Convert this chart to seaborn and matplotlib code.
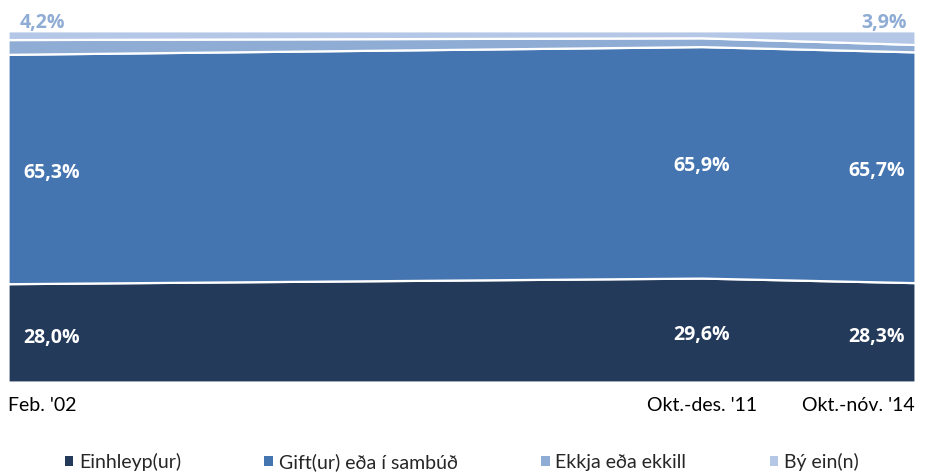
import matplotlib
matplotlib.use("Agg")
import matplotlib.pyplot as plt
import seaborn as sns
import numpy as np
from matplotlib.patches import Patch

# ---- data ----
periods = ["Feb. '02", "Okt.-des. '11", "Okt.-nóv. '14"]
time_pos = [2002.1, 2011.85, 2014.85]
series_names = ["Einhleyp(ur)", "Gift(ur) eða í sambúð", "Ekkja eða ekkill", "Bý ein(n)"]
einhleyp = [28.0, 29.6, 28.3]
gift = [65.3, 65.9, 65.7]
ekkja = [4.2, 2.5, 2.1]
byr = [2.5, 2.0, 3.9]
colors = ["#233a5b", "#4575b0", "#8eacd4", "#b4c7e7"]

sns.set_theme(style="white")
plt.rcParams["font.family"] = ["Lato", "DejaVu Sans"]
BOLD = ["Open Sans", "DejaVu Sans"]

fig = plt.figure(figsize=(9.29, 4.74), dpi=100)
ax = fig.add_axes([0.0086, 0.194, 0.9764, 0.741])

vals = np.array([einhleyp, gift, ekkja, byr], dtype=float)
vals = vals / vals.sum(axis=0) * 100
ax.stackplot(time_pos, vals, colors=colors, edgecolor="white", linewidth=1.6)

ax.set_xlim(time_pos[0], time_pos[-1])
ax.set_ylim(0, 100)
ax.set_yticks([])
for s in ax.spines.values():
    s.set_visible(False)

# x tick labels
ax.set_xticks(time_pos)
ax.set_xticklabels(periods, fontsize=14, color="#000000")
aligns = ["left", "center", "right"]
for lbl, ha in zip(ax.get_xticklabels(), aligns):
    lbl.set_ha(ha)
ax.tick_params(axis="x", length=0, pad=11)

# data labels
cum0 = vals[0]
label_x = [time_pos[0] + 0.22, time_pos[1], time_pos[2] - 0.14]
label_ha = ["left", "center", "right"]
for i in range(3):
    ax.text(label_x[i], cum0[i] / 2 - 1.4, f"{einhleyp[i]:.1f}%".replace(".", ","),
            color="white", fontsize=14, fontweight="bold", family=BOLD,
            ha=label_ha[i], va="center")
    ax.text(label_x[i], cum0[i] + vals[1][i] / 2 - 1.0, f"{gift[i]:.1f}%".replace(".", ","),
            color="white", fontsize=14, fontweight="bold", family=BOLD,
            ha=label_ha[i], va="center")

ax.text(time_pos[0] + 0.17, 100.9, "4,2%", color="#8eacd4", fontsize=14,
        fontweight="bold", family=BOLD, ha="left", va="baseline", clip_on=False)
ax.text(time_pos[2] - 0.11, 100.9, "3,9%", color="#8eacd4", fontsize=14,
        fontweight="bold", family=BOLD, ha="right", va="baseline", clip_on=False)

handles = [Patch(facecolor=c, edgecolor="none") for c in colors]
fig.legend(handles, series_names, loc="center", bbox_to_anchor=(0.497, 0.026),
           ncol=4, frameon=False, fontsize=14, handlelength=0.45, handleheight=0.45,
           handletextpad=0.3, columnspacing=4.27)

fig.savefig("out.png", dpi=100)
